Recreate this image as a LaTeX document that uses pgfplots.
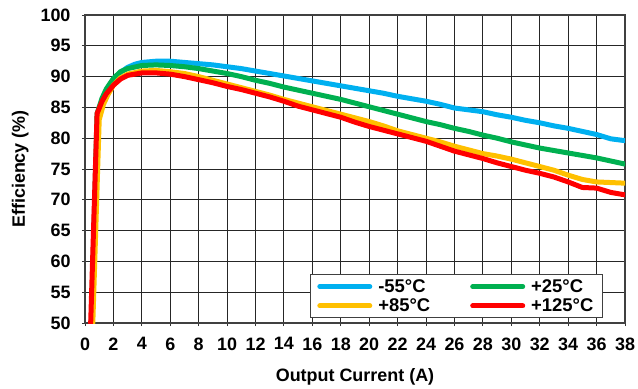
\documentclass[border=0pt]{standalone}
\usepackage{pgfplots}
\pgfplotsset{compat=1.18}
\usepackage{fontspec}
\setmainfont{Liberation Sans}
\definecolor{cblue}{RGB}{0,176,240}
\definecolor{cgreen}{RGB}{0,176,80}
\definecolor{corange}{RGB}{255,192,0}
\definecolor{cred}{RGB}{255,0,0}
\begin{document}
\begin{tikzpicture}
\begin{axis}[
  name=ax, at={(0,0)}, anchor=south west,
  scale only axis, width=540bp, height=308bp,
  xmin=0, xmax=38, ymin=50, ymax=100,
  xtick={0,2,...,38}, ytick={50,55,...,100},
  grid=major,
  major grid style={black!85, line width=0.9bp},
  axis line style={black!75, line width=1.2bp},
  tick style={black!80, line width=0.9bp},
  tick align=outside, major tick length=3bp,
  xtick pos=bottom, ytick pos=left,
  /pgf/number format/assume math mode=true,
  tick label style={font=\fontsize{18}{20}\selectfont\bfseries},
  xticklabel style={yshift=-8bp},
  yticklabel style={xshift=-8bp},
  xlabel={Output Current (A)}, ylabel={Efficiency (\%)},
  label style={font=\fontsize{18}{20}\selectfont\bfseries},
  xlabel style={at={(axis description cs:0.5,0)}, yshift=-42bp},
  ylabel style={at={(axis description cs:0,0.5)}, yshift=53bp},
  every axis plot/.append style={line width=5bp, line cap=round, line join=round},
  legend columns=2,
  legend cell align=left,
  legend style={at={(rel axis cs:0.959,0.016)}, anchor=south east,
    draw=black!75, line width=0.9bp,
    font=\fontsize{18.5}{20}\selectfont\bfseries,
    inner xsep=7bp, inner ysep=2.5bp,
    /tikz/every odd column/.style={column sep=4bp},
    /tikz/every even column/.style={column sep=38bp},
    row sep=1bp},
  legend image code/.code={\draw[#1] (0bp,0bp) -- (50bp,0bp);},
]
\addplot[cblue] coordinates {
(0.45,50) (0.9,84) (1.2,86) (1.5,87.5) (2,89.6) (2.5,90.7) (3,91.5) (3.5,92) (4,92.3) (5,92.5) (6,92.5) (7,92.3) (8,92.1) (9,91.9) (10,91.6) (11,91.3) (12,90.9) (13,90.5) (14,90.1) (15,89.7) (16,89.3) (17,88.9) (18,88.5) (19,88.1) (20,87.7) (21,87.3) (22,86.8) (23,86.4) (24,86.0) (25,85.5) (26,84.9) (27,84.6) (28,84.3) (29,83.8) (30,83.4) (31,82.9) (32,82.5) (33,82.0) (34,81.6) (35,81.1) (36,80.6) (37,79.9) (38,79.6)};
\addlegendentry{-55°C}
\addplot[cgreen] coordinates {
(0.45,50) (0.85,84) (1.2,86.5) (1.5,88) (2,89.7) (2.5,90.8) (3,91.3) (4,91.8) (5,91.9) (6,91.8) (7,91.6) (8,91.3) (9,90.9) (10,90.5) (11,90.0) (12,89.4) (13,88.9) (14,88.3) (15,87.8) (16,87.3) (17,86.8) (18,86.3) (19,85.7) (20,85.1) (21,84.5) (22,83.9) (23,83.3) (24,82.7) (25,82.2) (26,81.6) (27,81.1) (28,80.5) (29,80.0) (30,79.4) (31,78.9) (32,78.4) (33,78.0) (34,77.6) (35,77.2) (36,76.8) (37,76.3) (38,75.8)};
\addlegendentry{+25°C}
\addplot[corange] coordinates {
(0.55,50) (1.0,83) (1.3,85.5) (1.6,87) (2,88.6) (2.5,89.8) (3,90.4) (4,90.9) (5,91.0) (6,90.8) (7,90.5) (8,90.0) (9,89.4) (10,88.8) (11,88.2) (12,87.6) (13,87.0) (14,86.3) (15,85.7) (16,85.1) (17,84.5) (18,83.9) (19,83.3) (20,82.7) (21,82.0) (22,81.2) (23,80.6) (24,80.0) (25,79.4) (26,78.7) (27,78.1) (28,77.5) (29,77.1) (30,76.6) (31,76.0) (32,75.4) (33,74.8) (34,74.0) (35,73.3) (36,72.9) (37,72.8) (38,72.7)};
\addlegendentry{+85°C}
\addplot[cred] coordinates {
(0.4,50) (0.85,84) (1.2,86) (1.5,87.2) (2,88.6) (2.5,89.6) (3,90.2) (4,90.6) (5,90.6) (6,90.4) (7,90.0) (8,89.5) (9,89.0) (10,88.4) (11,87.9) (12,87.3) (13,86.7) (14,86.0) (15,85.2) (16,84.6) (17,84.0) (18,83.4) (19,82.6) (20,81.9) (21,81.3) (22,80.7) (23,80.1) (24,79.5) (25,78.7) (26,77.9) (27,77.3) (28,76.7) (29,76.0) (30,75.4) (31,74.8) (32,74.3) (33,73.7) (34,72.9) (35,72.0) (36,71.9) (37,71.2) (38,70.8)};
\addlegendentry{+125°C}
\end{axis}
\pgfresetboundingbox
\path (-85bp,-66bp) rectangle (553bp,323bp);
\end{tikzpicture}
\end{document}
